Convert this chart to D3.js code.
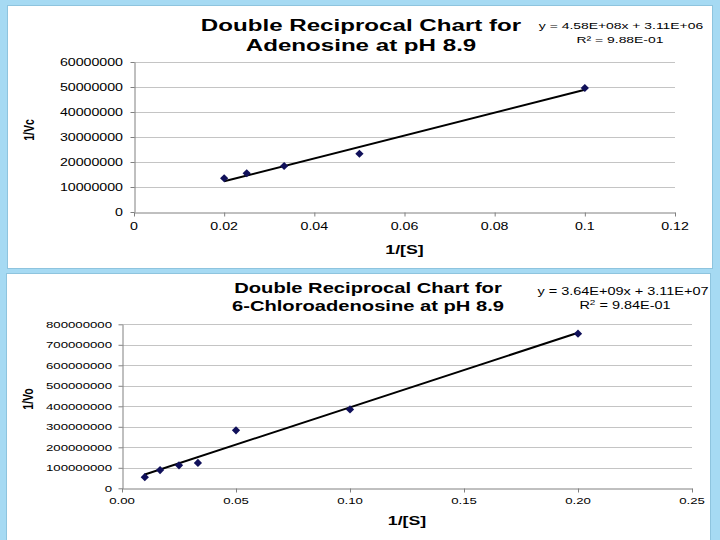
<!DOCTYPE html>
<html><head><meta charset="utf-8">
<script src="https://cdn.jsdelivr.net/npm/d3@7"></script>
<style>html,body{margin:0;padding:0;background:#a6daf3;}svg{display:block;}</style>
</head><body>
<script>
// ---------- data ----------
const topTitle = ["Double Reciprocal Chart for", "Adenosine at pH 8.9"];
const topEq = ["y = 4.58E+08x  + 3.11E+06", "R² = 9.88E-01"];
const topX = [0.02, 0.025, 0.0333, 0.05, 0.1];
const topY = [13500000, 15500000, 18400000, 23300000, 49600000];
const topFit = [4.58e8, 3.11e6];         // slope, intercept
const topXTicks = [0, 0.02, 0.04, 0.06, 0.08, 0.1, 0.12];
const topXTickLabels = ["0", "0.02", "0.04", "0.06", "0.08", "0.1", "0.12"];
const topYTicks = [0, 10000000, 20000000, 30000000, 40000000, 50000000, 60000000];
const topYTitle = "1/Vc";

const botTitle = ["Double Reciprocal Chart for", "6-Chloroadenosine at pH 8.9"];
const botEq = ["y = 3.64E+09x + 3.11E+07", "R", "2", " = 9.84E-01"];
const botX = [0.01, 0.0167, 0.025, 0.0333, 0.05, 0.1, 0.2];
const botY = [54000000, 89000000, 112000000, 124000000, 283000000, 385000000, 754000000];
const botFit = [3.64e9, 3.11e7];
const botXTicks = [0, 0.05, 0.10, 0.15, 0.20, 0.25];
const botXTickLabels = ["0.00", "0.05", "0.10", "0.15", "0.20", "0.25"];
const botYTicks = [0, 100000000, 200000000, 300000000, 400000000, 500000000, 600000000, 700000000, 800000000];
const botYTitle = "1/Vo";
const xTitle = "1/[S]";

// ---------- drawing ----------
const W = 720, H = 540, SX = 1.42;
const FONT = "Liberation Sans, Arial, sans-serif";
const svg = d3.select("body").append("svg").attr("width", W).attr("height", H);
svg.append("rect").attr("width", W).attr("height", H).attr("fill", "#a6daf3");

function txt(g, x, y, s, size, weight, anchor) {
  return g.append("text").attr("transform", `translate(${x},${y}) scale(${SX},1)`)
    .attr("font-family", FONT).attr("font-size", size).attr("font-weight", weight || "normal")
    .attr("text-anchor", anchor || "start").attr("fill", "#000").text(s);
}

function chart(cfg) {
  const g = svg.append("g");
  g.append("rect").attr("x", cfg.panel[0]).attr("y", cfg.panel[1]).attr("width", cfg.panel[2]).attr("height", cfg.panel[3])
    .attr("fill", "#fff").attr("stroke", "#8ec4de").attr("stroke-width", 1);
  const x = d3.scaleLinear().domain(cfg.xDomain).range([cfg.plot[0], cfg.plot[1]]);
  const y = d3.scaleLinear().domain(cfg.yDomain).range([cfg.plot[3], cfg.plot[2]]);
  // gridlines
  g.selectAll(".grid").data(cfg.yTicks.slice(1)).join("line")
    .attr("x1", cfg.plot[0]).attr("x2", cfg.plot[1])
    .attr("y1", d => Math.round(y(d)) + 0.5).attr("y2", d => Math.round(y(d)) + 0.5)
    .attr("stroke", "#c4c4c4").attr("stroke-width", 1);
  // y axis
  const ya = g.append("g").attr("transform", `translate(${cfg.plot[0] + 0.5},0)`)
    .call(d3.axisLeft(y).tickValues(cfg.yTicks).tickSize(4).tickSizeOuter(0).tickFormat(() => ""));
  ya.selectAll("path,line").attr("stroke", "#808080");
  cfg.yTicks.forEach(v => txt(g, cfg.yLabelX, y(v) + 3.6, String(v), cfg.tickFs, "normal", "end"));
  // x axis
  const xa = g.append("g").attr("transform", `translate(0,${Math.round(cfg.plot[3]) + 0.5})`)
    .call(d3.axisBottom(x).tickValues(cfg.xTicks).tickSize(4).tickSizeOuter(0).tickFormat(() => ""));
  xa.selectAll("path,line").attr("stroke", "#808080");
  cfg.xTicks.forEach((v, i) => txt(g, x(v), cfg.xLabelY, cfg.xTickLabels[i], cfg.tickFs, "normal", "middle"));
  // trend line
  const xs = d3.extent(cfg.xs);
  g.append("path").datum(xs)
    .attr("d", d3.line().x(d => x(d)).y(d => y(cfg.fit[0] * d + cfg.fit[1])))
    .attr("stroke", "#000").attr("stroke-width", 2).attr("fill", "none");
  // points
  const sym = d3.symbol().type(d3.symbolSquare).size(34);
  g.selectAll(".pt").data(cfg.xs.map((v, i) => [v, cfg.ys[i]])).join("path")
    .attr("d", sym).attr("fill", "#10105a")
    .attr("transform", d => `translate(${x(d[0])},${y(d[1])}) rotate(45)`);
  // titles
  txt(g, cfg.titleX, cfg.titleY[0], cfg.title[0], cfg.titleFs, "bold", "middle");
  txt(g, cfg.titleX, cfg.titleY[1], cfg.title[1], cfg.titleFs, "bold", "middle");
  txt(g, (cfg.plot[0] + cfg.plot[1]) / 2, cfg.xTitleY, xTitle, 12.5, "bold", "middle");
  g.append("text").attr("transform", `translate(${cfg.yTitleX},${cfg.yTitleY}) scale(${SX},1) rotate(-90)`)
    .attr("font-family", FONT).attr("font-size", 10.5).attr("font-weight", "bold")
    .attr("text-anchor", "middle").text(cfg.yTitle);
  return g;
}

const g1 = chart({
  panel: [7.5, 5.5, 705, 263], plot: [134, 675, 62, 212],
  xDomain: [0, 0.12], yDomain: [0, 60000000],
  xTicks: topXTicks, xTickLabels: topXTickLabels, yTicks: topYTicks,
  xs: topX, ys: topY, fit: topFit,
  yLabelX: 123, xLabelY: 230, tickFs: 10, title: topTitle, titleX: 361, titleY: [31, 51], titleFs: 17,
  xTitleY: 254, yTitleX: 34, yTitleY: 130, yTitle: topYTitle
});
txt(g1, 621, 29, topEq[0], 9.8, "normal", "middle");
txt(g1, 620, 43, topEq[1], 9.8, "normal", "middle");

const g2 = chart({
  panel: [6.5, 273.5, 704, 270], plot: [122, 692, 324.3, 488.3],
  xDomain: [0, 0.25], yDomain: [0, 800000000],
  xTicks: botXTicks, xTickLabels: botXTickLabels, yTicks: botYTicks,
  xs: botX, ys: botY, fit: botFit,
  yLabelX: 112, xLabelY: 503.5, tickFs: 9.3, title: botTitle, titleX: 368, titleY: [293, 311], titleFs: 14.2,
  xTitleY: 525, yTitleX: 33, yTitleY: 399, yTitle: botYTitle
});
txt(g2, 623, 295, botEq[0], 10.2, "normal", "middle");
const r2 = g2.append("text").attr("transform", `translate(625,309) scale(${SX},1)`)
  .attr("font-family", FONT).attr("font-size", 10.2).attr("text-anchor", "middle");
r2.append("tspan").text(botEq[1]);
r2.append("tspan").attr("dy", -4).attr("font-size", 7).text(botEq[2]);
r2.append("tspan").attr("dy", 4).text(botEq[3]);
</script>
</body></html>
